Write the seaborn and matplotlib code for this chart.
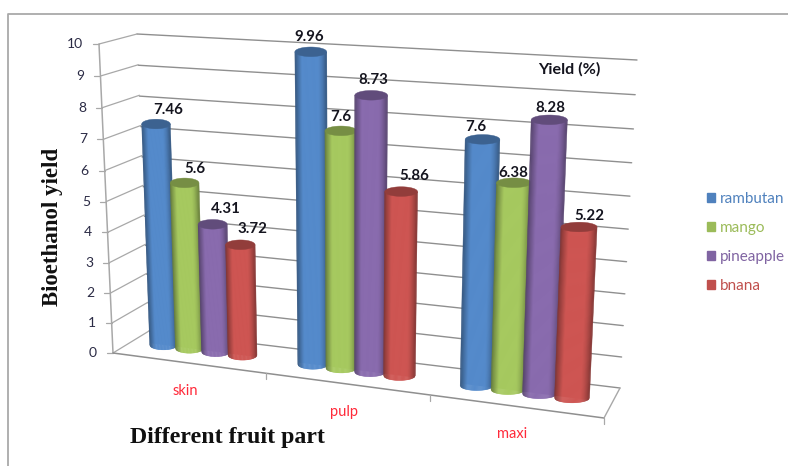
import numpy as np
import pandas as pd
import matplotlib
matplotlib.use("Agg")
import matplotlib.pyplot as plt
import seaborn as sns
from matplotlib.colors import to_rgb
from matplotlib.patches import Patch
from matplotlib.transforms import Affine2D, Transform

# Bioethanol yield (%) per fruit part
parts = ["skin", "pulp", "maxi"]
rambutan = [7.46, 9.96, 7.6]
mango = [5.6, 7.6, 6.38]
pineapple = [4.31, 8.73, 8.28]
bnana = [3.72, 5.86, 5.22]
fruits = ["rambutan", "mango", "pineapple", "bnana"]
value_ticks = list(range(11))

colors = ["#4F81BD", "#9BBB59", "#8064A2", "#C0504D"]
label_nudges = {
    "rambutan": [(12, -14), (-2, -15), (-7, -12)],
    "mango": [(10, -14), (0, -14), (-1, -10)],
    "pineapple": [(13, -15), (2, -15), (1, -12)],
    "bnana": [(12, -16), (13, -16), (10, -11)],
}

W, H = 788, 466
BAR_WIDTH = 0.72


class PlaneProjection(Transform):
    """Homography from a plane's (x, value) coordinates to canvas pixels."""

    input_dims = 2
    output_dims = 2
    is_separable = False
    has_inverse = False

    def __init__(self, src, dst):
        super().__init__()
        rows, rhs = [], []
        for (x, y), (u, v) in zip(src, dst):
            rows.append([x, y, 1, 0, 0, 0, -u * x, -u * y])
            rows.append([0, 0, 0, x, y, 1, -v * x, -v * y])
            rhs += [u, v]
        self.m = np.append(np.linalg.solve(np.array(rows, float), np.array(rhs, float)), 1).reshape(3, 3)

    def pixels(self, x, y):
        p = self.m @ np.array([x, y, 1.0])
        return p[0] / p[2], p[1] / p[2]

    def transform_non_affine(self, values):
        values = np.asarray(values, float)
        hom = np.column_stack([values, np.ones(len(values))]) @ self.m.T
        return np.column_stack([hom[:, 0] / hom[:, 2], H - hom[:, 1] / hom[:, 2]])


sns.set_theme(style="white")
plt.rcParams["font.family"] = ["Lato", "DejaVu Sans"]

fig = plt.figure(figsize=(W / 100, H / 100), dpi=100, facecolor="white")
ax = fig.add_axes([0, 0, 1, 1])

frame = pd.DataFrame({
    "part": parts * len(fruits),
    "fruit": np.repeat(fruits, len(parts)),
    "yield_pct": rambutan + mango + pineapple + bnana,
})
sns.barplot(data=frame, x="part", y="yield_pct", hue="fruit", hue_order=fruits,
            palette=colors, width=BAR_WIDTH, gap=0, saturation=1, legend=False, ax=ax)
ax.axis("off")

px = Affine2D().scale(1, -1).translate(0, H)

# Planes of the perspective box
bar_plane = PlaneProjection([(-0.27, 0), (2.27, 0), (2.27, 5.22), (-0.27, 7.46)],
                            [(163.5, 345), (572, 398), (579, 227), (156, 124)])
back_wall = PlaneProjection([(0, 0), (1, 0), (1, 10), (0, 10)],
                            [(149, 331), (620, 388), (637, 60), (137, 34)])
side_wall = PlaneProjection([(0, 0), (1, 0), (1, 10), (0, 10)],
                            [(113, 353), (149, 331), (137, 34), (99, 44)])
front_plane = PlaneProjection([(-0.5, 0), (2.5, 0), (2.5, 10), (-0.5, 10)],
                              [(113, 353), (604, 418), (621, 80), (99, 44)])

GRID = "#8f8f8f"
AXIS = "#a8a8a8"
for v in value_ticks:
    ax.plot([0, 1], [v, v], transform=back_wall, color=GRID, lw=1.0, zorder=1, clip_on=False)
    ax.plot([0, 1], [v, v], transform=side_wall, color=AXIS, lw=0.9, zorder=1, clip_on=False)
    tx, ty = side_wall.pixels(0, v)
    ax.plot([tx - 6, tx], [ty, ty], transform=px, color=AXIS, lw=0.9, zorder=1, clip_on=False)
    ax.text(tx - 16, ty, str(v), transform=px, ha="right", va="center",
            fontsize=10, color="#2b2b45", clip_on=False)
ax.plot([0, 0], [0, 10], transform=side_wall, color=AXIS, lw=1.1, zorder=1, clip_on=False)

# Floor outline and category ticks
ax.plot([-0.5, 2.5], [0, 0], transform=front_plane, color=GRID, lw=1.1, zorder=1, clip_on=False)
fx, fy = front_plane.pixels(2.5, 0)
bx, by = back_wall.pixels(1, 0)
ax.plot([fx, bx], [fy, by], transform=px, color=AXIS, lw=1.0, zorder=1, clip_on=False)
for boundary in (0.5, 1.5, 2.5):
    tx, ty = front_plane.pixels(boundary, 0)
    ax.plot([tx, tx], [ty, ty + 6], transform=px, color=AXIS, lw=0.9, zorder=1, clip_on=False)
for i, name in enumerate(parts):
    tx, ty = front_plane.pixels(i, 0)
    ax.text(tx - 3, ty + 28, name, transform=px, ha="center", va="center",
            fontsize=10.5, color="#ff2a3a", clip_on=False)


def shade(rgb, t):
    """Cylinder lighting across the body; t runs from -1 (left) to 1 (right)."""
    if t < 0:
        k = 0.66 + 0.42 * min(1, (t + 1) / 0.45)
    else:
        k = 1.08 - 0.4 * max(0, (t - 0.45) / 0.55) ** 1.5
    return tuple(min(1, c * k) for c in rgb)


# Turn each bar into a shaded cylinder on the bar plane
STRIPS = 36
CAP = 4.8
WIDEN = 1.07
for container, fruit, base_color in zip(ax.containers, fruits, colors):
    rgb = to_rgb(base_color)
    for idx, patch in enumerate(container.patches):
        x0, w, value = patch.get_x(), patch.get_width(), patch.get_height()
        order = 3 + x0
        patch.set_transform(bar_plane)
        patch.set_clip_on(False)
        patch.set_linewidth(0)
        patch.set_zorder(order)
        xc = x0 + w / 2
        bx0, by0 = bar_plane.pixels(xc, 0)
        tx0, ty0 = bar_plane.pixels(xc, value)
        half_b = WIDEN * (bar_plane.pixels(x0 + w, 0)[0] - bar_plane.pixels(x0, 0)[0]) / 2
        half_t = WIDEN * (bar_plane.pixels(x0 + w, value)[0] - bar_plane.pixels(x0, value)[0]) / 2
        edges = np.linspace(-1, 1, STRIPS + 1)
        arc = lambda s: np.sqrt(np.clip(1 - s ** 2, 0, 1))
        for a, b in zip(edges[:-1], edges[1:]):
            c = shade(rgb, (a + b) / 2)
            xs = [bx0 + a * half_b, bx0 + b * half_b, tx0 + b * half_t, tx0 + a * half_t]
            ys = [by0 + CAP * arc(a), by0 + CAP * arc(b), ty0 + CAP * arc(b), ty0 + CAP * arc(a)]
            ax.fill(xs, ys, transform=px, color=c, lw=0.35, zorder=order, clip_on=False)
        theta = np.linspace(0, 2 * np.pi, 80)
        cap_x = tx0 + half_t * np.cos(theta)
        cap_y = ty0 + CAP * np.sin(theta)
        ax.fill(cap_x, cap_y, transform=px, color=tuple(c * 0.76 for c in rgb),
                lw=0.3, zorder=order + 0.001, clip_on=False)
        nx, ny = label_nudges[fruit][idx]
        ax.text(tx0 + nx, ty0 + ny, f"{value:g}", transform=px, ha="center", va="center",
                fontsize=10.8, fontweight="bold", color="#14141e", zorder=10, clip_on=False)

# Figure border: top and left only
ax.plot([7.5, 7.5, W], [H, 14, 14], transform=px, color="#a9a9a9", lw=1.3, clip_on=False)

ax.text(569, 69, "Yield (%)", transform=px, ha="center", va="center",
        fontsize=11.6, fontweight="bold", color="#14141e", zorder=10, clip_on=False)
ax.text(227, 438, "Different fruit part", transform=px, ha="center", va="center",
        fontsize=17.2, fontweight="bold", family="Liberation Serif", color="#101010", clip_on=False)
ax.text(53, 227, "Bioethanol yield", transform=px, ha="center", va="center", rotation=90,
        fontsize=16.5, fontweight="bold", family="Liberation Serif", color="#101010", clip_on=False)

legend = ax.legend(handles=[Patch(color=c, label=f) for c, f in zip(colors, fruits)],
                   loc="upper left", bbox_to_anchor=(706.5 / W, 1 - 192 / H),
                   bbox_transform=fig.transFigure, frameon=False, fontsize=11,
                   handlelength=0.55, handleheight=0.55, handletextpad=0.32,
                   labelspacing=0.98, borderpad=0, borderaxespad=0)
for text, c in zip(legend.get_texts(), colors):
    text.set_color(c)
legend.set_zorder(10)

fig.savefig("out.png", dpi=100, facecolor="white")
